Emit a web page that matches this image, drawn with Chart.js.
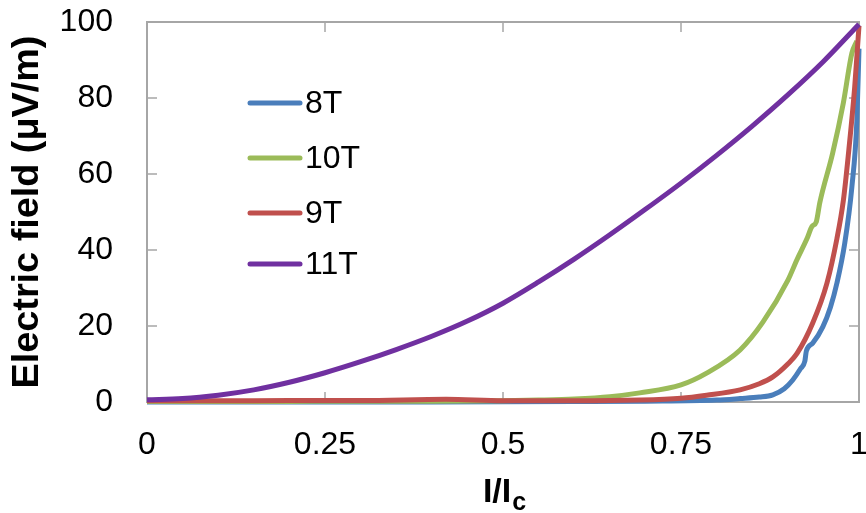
<!DOCTYPE html>
<html>
<head>
<meta charset="utf-8">
<script src="https://cdn.jsdelivr.net/npm/chart.js@4.4.1/dist/chart.umd.min.js"></script>
<style>
    html, body { margin: 0; padding: 0; background: #fff; }
    #wrap { width: 866px; height: 513px; }
</style>
</head>
<body>
<div id="wrap"><canvas id="fieldChart"></canvas></div>
<script>
// E-field vs I/Ic for four magnetic fields
const seriesLabels = ["8T", "10T", "9T", "11T"];
const seriesColors = ["#4a7ebb", "#9bbb59", "#c0504d", "#7030a0"];

const x8T = [0, 0.2, 0.4, 0.6, 0.7, 0.8, 0.833, 0.86, 0.879, 0.895, 0.907, 0.918, 0.924, 0.926, 0.935, 0.949, 0.96, 0.969, 0.98, 0.99, 0.997, 1.0];
const e8T = [0, 0, 0, 0.1, 0.2, 0.5, 0.9, 1.3, 1.9, 3.5, 5.8, 8.8, 10.8, 13.4, 15.5, 19.7, 25, 31.3, 41.8, 56.6, 74, 93];

const x10T = [0, 0.1, 0.2, 0.3, 0.4, 0.5, 0.55, 0.6, 0.65, 0.692, 0.75, 0.786, 0.833, 0.865, 0.9, 0.913, 0.927, 0.934, 0.94, 0.945, 0.963, 0.978, 0.99, 0.997];
const e10T = [0.1, 0.1, 0.15, 0.2, 0.2, 0.3, 0.5, 0.8, 1.4, 2.4, 4.5, 7.6, 13.7, 21, 32, 37.5, 43, 46.2, 47.4, 52.5, 65.5, 78.7, 91.8, 95];

const x9T = [0, 0.1, 0.2, 0.3, 0.42, 0.5, 0.6, 0.692, 0.75, 0.786, 0.833, 0.86, 0.879, 0.9, 0.913, 0.935, 0.955, 0.969, 0.978, 0.985, 0.994, 1.0];
const e9T = [0.3, 0.3, 0.4, 0.4, 0.7, 0.3, 0.3, 0.5, 1.0, 1.8, 3.2, 4.8, 6.6, 10.0, 12.8, 20.8, 31.3, 43, 53, 65, 83, 99];

const x11T = [0, 0.05, 0.1, 0.15, 0.2, 0.25, 0.3, 0.35, 0.4, 0.45, 0.5, 0.55, 0.6, 0.65, 0.7, 0.75, 0.8, 0.85, 0.9, 0.95, 1];
const e11T = [0.6, 0.9, 1.8, 3.2, 5.2, 7.7, 10.6, 13.8, 17.3, 21.3, 26.0, 31.6, 37.6, 44.0, 50.7, 57.6, 64.9, 72.6, 80.8, 89.6, 99.4];

const xTicks = [0, 0.25, 0.5, 0.75, 1];
const yTicks = [0, 20, 40, 60, 80, 100];

const FONT = "'Liberation Sans', Arial, sans-serif";

function toPoints(xs, ys) {
    return xs.map((x, i) => ({ x: x, y: ys[i] }));
}

const seriesData = [toPoints(x8T, e8T), toPoints(x10T, e10T), toPoints(x9T, e9T), toPoints(x11T, e11T)];
// lower order is drawn on top: purple over red over green over blue
const drawOrder = [3, 2, 1, 0];

// fixed axis sizes, no extra room for the end labels
function fixSize(scale, w, h) {
    if (w !== null) scale.width = w;
    if (h !== null) scale.height = h;
    scale.paddingTop = 0;
    scale.paddingBottom = 0;
    scale.paddingLeft = 0;
    scale.paddingRight = 0;
}

// frame with inward ticks, legend inside the plot, x title with subscript
const framePlugin = {
    id: "frame",
    beforeDatasetsDraw(chart) {
        const ctx = chart.ctx;
        const a = chart.chartArea;
        const xs = chart.scales.x, ys = chart.scales.y;
        ctx.save();
        ctx.strokeStyle = "#a6a6a6";
        ctx.lineWidth = 2;
        ctx.strokeRect(a.left, a.top, a.right - a.left, a.bottom - a.top);
        ctx.lineWidth = 1.5;
        ctx.beginPath();
        yTicks.slice(1, -1).forEach(v => {
            const py = ys.getPixelForValue(v);
            ctx.moveTo(a.left, py); ctx.lineTo(a.left + 10, py);
            ctx.moveTo(a.right, py); ctx.lineTo(a.right - 10, py);
        });
        xTicks.slice(1, -1).forEach(v => {
            const px = xs.getPixelForValue(v);
            ctx.moveTo(px, a.bottom); ctx.lineTo(px, a.bottom - 10);
            ctx.moveTo(px, a.top); ctx.lineTo(px, a.top + 10);
        });
        ctx.stroke();
        ctx.restore();
    },
    afterDraw(chart) {
        const ctx = chart.ctx;
        const a = chart.chartArea;
        ctx.save();
        // legend
        const rows = [103, 158, 213, 264];
        chart.data.datasets.forEach((ds, i) => {
            ctx.strokeStyle = ds.borderColor;
            ctx.lineWidth = 5;
            ctx.lineCap = "round";
            ctx.beginPath();
            ctx.moveTo(250, rows[i]);
            ctx.lineTo(300, rows[i]);
            ctx.stroke();
            ctx.fillStyle = "#000";
            ctx.font = "32px " + FONT;
            ctx.textBaseline = "middle";
            ctx.textAlign = "left";
            ctx.fillText(ds.label, 305, rows[i] + 1);
        });
        // x axis title I/Ic
        const main = "I/I", sub = "c";
        ctx.font = "bold 34px " + FONT;
        const w1 = ctx.measureText(main).width;
        ctx.font = "bold 25px " + FONT;
        const w2 = ctx.measureText(sub).width;
        const x0 = (a.left + a.right) / 2 - (w1 + w2) / 2 + 1;
        ctx.textBaseline = "alphabetic";
        ctx.textAlign = "left";
        ctx.fillStyle = "#000";
        ctx.font = "bold 34px " + FONT;
        ctx.fillText(main, x0, 502);
        ctx.font = "bold 25px " + FONT;
        ctx.fillText(sub, x0 + w1 + 1, 510);
        ctx.restore();
    }
};

const ctx = document.getElementById("fieldChart").getContext("2d");

new Chart(ctx, {
    type: "scatter",
    data: {
        datasets: seriesLabels.map((label, i) => ({
            label: label,
            data: seriesData[i],
            borderColor: seriesColors[i],
            backgroundColor: seriesColors[i],
            borderWidth: 5,
            showLine: true,
            pointRadius: 0,
            cubicInterpolationMode: "monotone",
            clip: false,
            order: drawOrder[i]
        }))
    },
    options: {
        responsive: true,
        maintainAspectRatio: false,
        animation: false,
        layout: { autoPadding: false, padding: { top: 22, right: 7, left: 0, bottom: 0 } },
        plugins: {
            legend: { display: false },
            tooltip: { enabled: false }
        },
        scales: {
            x: {
                type: "linear",
                min: 0,
                max: 1,
                afterBuildTicks: scale => { scale.ticks = xTicks.map(v => ({ value: v })); },
                afterFit: scale => fixSize(scale, null, 111),
                grid: { display: false, drawTicks: false },
                border: { display: false },
                ticks: {
                    autoSkip: false,
                    maxRotation: 0,
                    padding: 24,
                    color: "#000",
                    font: { family: FONT, size: 32 },
                    callback: v => String(v)
                }
            },
            y: {
                min: 0,
                max: 100,
                afterBuildTicks: scale => { scale.ticks = yTicks.map(v => ({ value: v })); },
                afterFit: scale => fixSize(scale, 147, null),
                grid: { display: false, drawTicks: false },
                border: { display: false },
                ticks: {
                    padding: 34,
                    color: "#000",
                    font: { family: FONT, size: 32 },
                    callback: v => String(v)
                },
                title: {
                    display: true,
                    text: "Electric field (μV/m)",
                    color: "#000",
                    font: { family: FONT, size: 37.8, weight: "bold" },
                    padding: { top: 5, bottom: 0 }
                }
            }
        }
    },
    plugins: [framePlugin]
});
</script>
</body>
</html>
